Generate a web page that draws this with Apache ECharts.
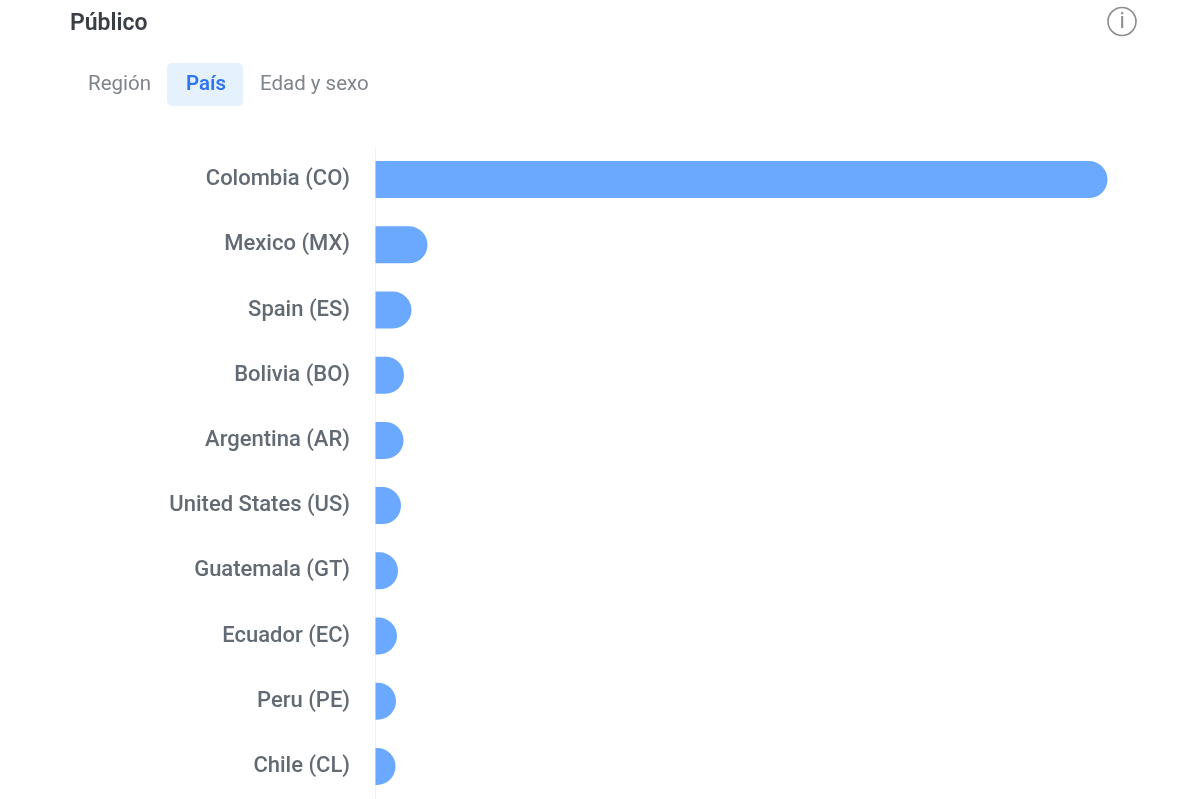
<!DOCTYPE html>
<html><head><meta charset="utf-8">
<style>html,body{margin:0;padding:0;background:#fff}#c{width:1195px;height:799px}</style>
<script src="https://cdn.jsdelivr.net/npm/echarts@6/dist/echarts.min.js"></script>
</head><body><div id="c"></div>
<script>
const categories = ["Colombia (CO)","Mexico (MX)","Spain (ES)","Bolivia (BO)","Argentina (AR)","United States (US)","Guatemala (GT)","Ecuador (EC)","Peru (PE)","Chile (CL)"];
const values = [73.2,5.2,3.6,2.85,2.8,2.55,2.25,2.15,2.05,2.0];
const title = "Público";
const tabs = ["Región","País","Edad y sexo"];
const chart = echarts.init(document.getElementById('c'));
const font = "Roboto";
chart.setOption({
  animation:false,
  backgroundColor:'#fff',
  grid:{left:375.5,top:147,width:800,height:655,containLabel:false},
  xAxis:{type:'value',min:0,max:80,show:false},
  yAxis:{type:'category',inverse:true,data:categories,
    axisLine:{show:true,lineStyle:{color:'#f0f2f4',width:1}},axisTick:{show:false},
    axisLabel:{color:'#626a74',fontSize:22,fontFamily:font,fontWeight:500,margin:25.5}},
  series:[{type:'bar',data:values,barWidth:37,itemStyle:{color:'#6aa9ff',borderRadius:[0,19,19,0]}}],
  graphic:[
    {type:'text',left:70,top:13,style:{text:title,fontFamily:font,fontSize:23,fontWeight:600,fill:'#3a3f45'}},
    {type:'rect',shape:{x:167,y:63,width:76,height:43,r:5},style:{fill:'#e6f1fe'}},
    {type:'text',left:88,top:74,style:{text:tabs[0],fontFamily:font,fontSize:20.5,fill:'#7f858c'}},
    {type:'text',left:186,top:74,style:{text:tabs[1],fontFamily:font,fontSize:20.5,fontWeight:600,fill:'#2f76ee'}},
    {type:'text',left:260,top:74,style:{text:tabs[2],fontFamily:font,fontSize:20.5,fill:'#7f858c'}},
    {type:'circle',shape:{cx:1122,cy:21.5,r:14},style:{fill:'#fff',stroke:'#8a8d90',lineWidth:1.6}},
    {type:'text',left:1119.5,top:11,style:{text:'i',fontFamily:font,fontSize:22,fill:'#8a8d90'}}
  ]
});
</script></body></html>
